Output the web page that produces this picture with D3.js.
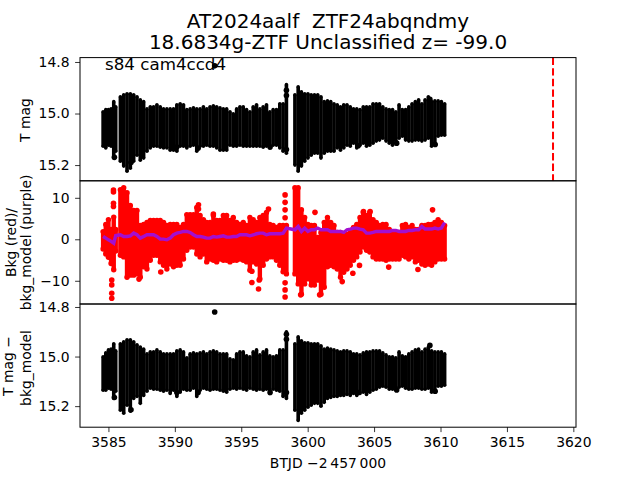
<!DOCTYPE html>
<html><head><meta charset="utf-8">
<script src="https://cdn.jsdelivr.net/npm/d3@7"></script>
<style>html,body{margin:0;padding:0;background:#fff}svg{display:block}text{font-family:"DejaVu Sans",sans-serif;fill:#000;white-space:pre}</style>
</head><body><svg id="c" width="640" height="480"></svg>
<script>
const titleLines = ["AT2024aalf  ZTF24abqndmy", "18.6834g-ZTF Unclassified z= -99.0"];
const note = "s84 cam4ccd4";
const xTicks = [3585,3590,3595,3600,3605,3610,3615,3620];
const magTicks = [14.8,15.0,15.2];
const bkgTicks = [10,0,-10];
const eventTime = 3618.47;

const timeA = [3584.6,3584.8,3585,3585.2,3585.4,3585.55];
const timeB = [3585.9,3586.15,3586.4,3586.65,3586.9,3587.15,3587.4,3587.65,3587.9,3588.15,3588.4,3588.65,3588.9,3589.15,3589.4,3589.65,3589.9,3590.15,3590.4,3590.65,3590.9,3591.15,3591.4,3591.65,3591.9,3592.15,3592.4,3592.65,3592.9,3593.15,3593.4,3593.65,3593.9,3594.15,3594.4,3594.65,3594.9,3595.15,3595.4,3595.65,3595.9,3596.15,3596.4,3596.65,3596.9,3597.15,3597.4,3597.65,3597.9,3598.15,3598.4];
const timeC = [3599.04,3599.285,3599.53,3599.775,3600.02,3600.265,3600.51,3600.755,3601,3601.245,3601.49,3601.735,3601.98,3602.225,3602.47,3602.715,3602.96,3603.205,3603.45,3603.695,3603.94,3604.185,3604.43,3604.675,3604.92,3605.165,3605.41,3605.655,3605.9,3606.145,3606.39,3606.635,3606.88,3607.125,3607.37,3607.615,3607.86,3608.105,3608.35,3608.595,3608.84,3609.085,3609.33,3609.575,3609.82,3610.065,3610.31];
const times = [...timeA, ...timeB, ...timeC];

const magHi = [14.986,14.978,14.978,14.975,14.947,14.967,
14.928,14.92,14.916,14.916,14.92,14.928,14.94,14.947,14.975,14.967,14.967,14.959,14.967,14.975,14.975,14.975,14.975,14.959,14.955,14.959,14.978,14.975,14.971,14.975,14.975,14.967,14.975,14.967,14.963,14.967,14.971,14.975,14.975,14.986,14.994,14.975,14.967,14.967,14.978,14.986,14.967,14.959,14.975,14.967,14.959,14.986,14.978,14.978,14.955,14.955,14.881,
14.92,14.889,14.909,14.916,14.916,14.92,14.92,14.92,14.928,14.947,14.944,14.947,14.955,14.959,14.967,14.959,14.959,14.967,14.975,14.975,14.978,14.967,14.967,14.967,14.955,14.955,14.955,14.967,14.975,14.978,14.978,14.986,14.959,14.978,14.978,14.967,14.955,14.947,14.94,14.955,14.94,14.928,14.947,14.944,14.944,14.947,14.955];
const magLo = [15.134,15.141,15.13,15.134,15.18,15.153,
15.192,15.211,15.231,15.219,15.192,15.169,15.188,15.18,15.153,15.141,15.134,15.134,15.138,15.141,15.141,15.149,15.149,15.153,15.134,15.134,15.141,15.134,15.13,15.153,15.134,15.134,15.13,15.134,15.134,15.141,15.149,15.149,15.149,15.13,15.134,15.134,15.13,15.134,15.134,15.134,15.134,15.134,15.134,15.138,15.134,15.141,15.13,15.13,15.141,15.153,15.161,
15.207,15.231,15.211,15.192,15.18,15.169,15.161,15.161,15.18,15.161,15.153,15.153,15.153,15.141,15.149,15.141,15.13,15.134,15.122,15.141,15.13,15.122,15.134,15.13,15.122,15.114,15.11,15.103,15.114,15.122,15.13,15.114,15.103,15.095,15.11,15.114,15.114,15.11,15.11,15.114,15.11,15.103,15.134,15.122,15.095,15.091,15.091];
const magExtraT = [3593,3585.45,3586.7,3590.15,3591.75,3597.17,3598.4,3598.4,3598.4,3603.8,3606.7,3609.2,3609.6];
const magExtraV = [14.815,15.17,15.19,15.13,15.135,15.13,14.93,14.91,15.14,15.125,15.115,14.945,15.12];

const bkgHi = [2.5,4.2,5.4,3,6,3,
12.6,13.1,11.9,8.8,7.6,7.6,4,4.2,4.7,5.2,5.2,5.2,5.2,4.7,4,4.2,4.2,4.2,3.5,4.2,6.6,6.6,6.6,8.3,6.4,5.4,4.7,4.7,6.4,5.2,5.2,6.4,6.4,5.2,5.9,4.7,4.2,4.7,4,5.9,5.4,4.7,5.9,6.4,7.1,4.2,4,3.5,4,4,4,
13.1,13.1,7.8,5.9,4.2,4,4,1.1,2.3,4.7,5.9,4.7,4,2.3,2.3,1.6,1.8,2.3,3.5,4.2,5.9,7.1,6.4,7.1,5.4,4.7,4,4.2,4.2,3,2.3,2.3,2.3,4,4.2,3.5,4,3,3,4,4,4.2,4.2,4.7,5.4,4.7,4];
const bkgLo = [-3,-4.2,-5,-6.5,-8,-3.5,
-4.5,-4.9,-9.8,-9.3,-9.3,-9,-9.8,-7.3,-7.8,-5.7,-4.5,-4.5,-6.1,-6.9,-7.8,-6.6,-7.3,-6.9,-6.9,-5.4,-3.3,-2.5,-2.5,-4.2,-4.9,-4.2,-6.1,-5.4,-5.7,-6.1,-5.4,-5.7,-5.7,-6.1,-5.7,-5.7,-5.4,-5.7,-6.1,-8.1,-6.1,-6.6,-10.2,-6.9,-5.4,-4.9,-4.9,-5.7,-6.9,-8.5,-9,
-9,-11.4,-13.9,-11.4,-10.2,-11.7,-11.7,-10.5,-13.9,-12.2,-7.3,-6.9,-7.3,-7.8,-9.8,-8.6,-7.8,-6.9,-5.7,-4.9,-3.7,-2.5,-3.3,-3.7,-4.9,-5.4,-5.4,-5.4,-5.7,-5.4,-5.4,-5.4,-5.4,-4.5,-4.9,-5.4,-4.9,-6.1,-5.7,-6.6,-6.9,-6.6,-6.9,-6.1,-5.4,-5.4,-5.4];
const bkgExtraT = [3585.38,3585.38,3585.38,3585.38,3585.25,3585.25,3585.25,3585.25,3588.94,3587.3,3591.78,3591.78,3592.9,3597.05,3595.8,3595.8,3596.3,3596.35,3598.3,3598.3,3598.3,3598.3,3598.3,3598.3,3598.3,3599.47,3600.55,3600.9,3602.6,3603.4,3603.9,3604.2,3604.7,3606.1,3608.3,3609.4];
const bkgExtraV = [11.9,11.4,8.7,7.9,-9.8,-11,-13,-14.2,-7.9,-9.6,8.3,7.3,6.1,7.3,-7.7,-10.4,-12,-9.8,10.7,8.9,7.1,5.2,-10.5,-12.2,-13.9,-13.4,6.5,-13.4,-10.2,-8.2,-6.3,6.7,6.7,-6.7,-7.3,7.1];
const modelBkg = [0.68,0.28,-0.13,-0.5,-0.93,0.9,
1.09,0.68,0.68,0.84,1.49,1.09,0.28,0.68,1.09,1.09,1.09,0.68,0.04,0.04,-0.13,0.28,1.09,1.49,1.65,1.89,1.89,1.65,1.09,0.68,0.68,0.52,0.28,0.28,0.68,0.52,0.68,0.84,0.52,0.52,0.68,0.68,1.09,1.09,1.09,0.84,1.09,1.33,1.49,1.49,1.09,1.33,1.33,1.33,1.33,1.49,2.7,
2.29,3.09,1.89,2.7,1.89,2.29,2.29,2.7,2.29,2.29,2.29,1.89,1.89,1.89,1.89,1.65,2.29,2.47,2.7,2.7,2.47,2.29,1.49,1.49,1.65,1.89,1.89,1.89,1.89,1.89,2.13,2.13,1.89,1.89,1.89,2.13,2.13,2.29,2.29,3.09,2.47,2.47,2.47,2.7,2.47,2.7,4.05];

const subHi = [14.994,14.978,14.966,14.962,14.941,14.97,
14.941,14.933,14.925,14.925,14.933,14.945,14.954,14.962,14.982,14.974,14.974,14.966,14.974,14.982,14.982,14.982,14.982,14.97,14.966,14.974,14.998,14.982,14.978,14.982,14.978,14.974,14.982,14.974,14.97,14.974,14.982,14.982,14.982,15.002,15.006,14.982,14.974,14.974,14.99,14.994,14.974,14.966,14.986,14.974,14.966,14.99,14.994,14.99,14.966,14.966,14.893,
14.941,14.913,14.929,14.937,14.937,14.941,14.941,14.941,14.949,14.962,14.958,14.962,14.966,14.97,14.974,14.97,14.97,14.974,14.982,14.982,14.986,14.978,14.974,14.974,14.97,14.97,14.97,14.978,14.986,14.994,14.994,14.998,14.974,14.99,14.994,14.982,14.974,14.966,14.962,14.974,14.962,14.954,14.97,14.974,14.974,14.974,14.982];
const subLo = [15.143,15.143,15.135,15.139,15.176,15.147,
15.224,15.236,15.204,15.228,15.176,15.168,15.196,15.164,15.147,15.135,15.139,15.139,15.143,15.147,15.143,15.156,15.143,15.168,15.151,15.139,15.143,15.143,15.135,15.168,15.143,15.135,15.139,15.143,15.139,15.139,15.143,15.147,15.151,15.139,15.135,15.139,15.135,15.139,15.143,15.135,15.139,15.143,15.139,15.143,15.139,15.156,15.139,15.143,15.147,15.168,15.176,
15.224,15.265,15.236,15.224,15.212,15.204,15.196,15.196,15.208,15.192,15.176,15.172,15.168,15.168,15.164,15.164,15.16,15.164,15.156,15.164,15.156,15.151,15.16,15.151,15.143,15.139,15.131,15.127,15.131,15.139,15.139,15.135,15.131,15.127,15.135,15.139,15.139,15.135,15.135,15.139,15.139,15.135,15.151,15.151,15.127,15.127,15.123];
const subExtraT = [3593,3585.45,3586.7,3590.15,3591.75,3597.17,3598.4,3598.4,3598.4,3603.8,3606.7,3609.2,3609.6];
const subExtraV = [14.82,15.165,15.215,15.145,15.145,15.145,14.93,14.91,15.145,15.145,15.135,14.955,15.14];

const svg = d3.select("#c");
const L=80,R=576;
const panels=[[57.6,180.8],[180.8,304],[304,427.2]];
const x=d3.scaleLinear().domain([3582.86,3620.2]).range([L,R]);
const y1=d3.scaleLinear().domain([14.783,15.261]).range(panels[0]);
const y2=d3.scaleLinear().domain([14.1,-15.6]).range(panels[1]);
const y3=d3.scaleLinear().domain([14.788,15.285]).range(panels[2]);
const fmt=d=>d3.format(".1f")(d);
const TICK_FS=13.9;

function band(g,y,hi,lo,color,w,r){
  const idx=d3.range(times.length);
  g.append("g").selectAll("line").data(idx).join("line")
    .attr("x1",i=>x(times[i])).attr("x2",i=>x(times[i]))
    .attr("y1",i=>y(hi[i])+r).attr("y2",i=>y(lo[i])-r)
    .attr("stroke",color).attr("stroke-width",w);
  g.append("g").selectAll("circle").data(idx.flatMap(i=>[[times[i],y(hi[i])+r],[times[i],y(lo[i])-r]])).join("circle")
    .attr("cx",d=>x(d[0])).attr("cy",d=>d[1]).attr("r",r).attr("fill",color);
}
function extras(g,y,ts,vs,color,r){
  g.append("g").selectAll("circle").data(ts.map((t,i)=>[t,vs[i]])).join("circle")
    .attr("cx",d=>x(d[0])).attr("cy",d=>y(d[1])).attr("r",r).attr("fill",color);
}
function frame(y,tv,f,top,bottom){
  const a=svg.append("g").attr("transform",`translate(${L},0)`)
    .call(d3.axisLeft(y).tickValues(tv).tickFormat(f).tickSize(4.9).tickPadding(5.6));
  a.select(".domain").remove();
  a.selectAll("text").style("font-size",TICK_FS+"px");
  a.selectAll("line").attr("stroke-width",0.8);
  svg.append("rect").attr("x",L).attr("y",top).attr("width",R-L).attr("height",bottom-top)
    .attr("fill","none").attr("stroke","#000").attr("stroke-width",1);
}

svg.append("text").attr("x",105).attr("y",70).style("font-size","16.7px").text(note);

const g1=svg.append("g");
band(g1,y1,magHi,magLo,"#000",3.6,1.8);
extras(g1,y1,magExtraT,magExtraV,"#000",2.8);
g1.append("line").attr("x1",x(eventTime)).attr("x2",x(eventTime))
  .attr("y1",panels[0][0]).attr("y2",panels[0][1])
  .attr("stroke","#f00").attr("stroke-width",2).attr("stroke-dasharray","7.4,3.2");

const g2=svg.append("g");
band(g2,y2,bkgHi,bkgLo,"#f00",4.4,2.7);
extras(g2,y2,bkgExtraT,bkgExtraV,"#f00",2.8);
g2.append("path").datum(times.map((t,i)=>[t,modelBkg[i]]))
  .attr("fill","none").attr("stroke","#a30fd0").attr("stroke-width",3.4)
  .attr("d",d3.line().x(d=>x(d[0])).y(d=>y2(d[1])));

const g3=svg.append("g");
band(g3,y3,subHi,subLo,"#000",3.6,1.8);
extras(g3,y3,subExtraT,subExtraV,"#000",2.8);

frame(y1,magTicks,fmt,...panels[0]);
frame(y2,bkgTicks,d=>d<0?"\u2212"+Math.abs(d):""+d,...panels[1]);
frame(y3,magTicks,fmt,...panels[2]);

const ax=svg.append("g").attr("transform",`translate(0,${panels[2][1]})`)
  .call(d3.axisBottom(x).tickValues(xTicks).tickFormat(d3.format("d")).tickSize(4.9).tickPadding(5.5));
ax.select(".domain").remove();
ax.selectAll("text").style("font-size",TICK_FS+"px");
ax.selectAll("line").attr("stroke-width",0.8);

const title=svg.append("text").attr("text-anchor","middle").style("font-size","20px");
titleLines.forEach((t,i)=>title.append("tspan").attr("x",328).attr("y",27.7+i*21.5).text(t));
svg.append("text").attr("x",328).attr("y",468).attr("text-anchor","middle")
  .style("font-size",TICK_FS+"px").text("BTJD \u22122\u2009457\u2009000");

function ylab(t,bx,cy){
  svg.append("text").attr("transform",`translate(${bx},${cy}) rotate(-90)`)
    .attr("text-anchor","middle").style("font-size",TICK_FS+"px").text(t);
}
ylab("T mag",30,120);
ylab("Bkg (red)/",15.7,242.5);
ylab("bkg_model (purple)",31,242.5);
ylab("T mag \u2212",13,366);
ylab("bkg_model",31,368);
</script></body></html>
